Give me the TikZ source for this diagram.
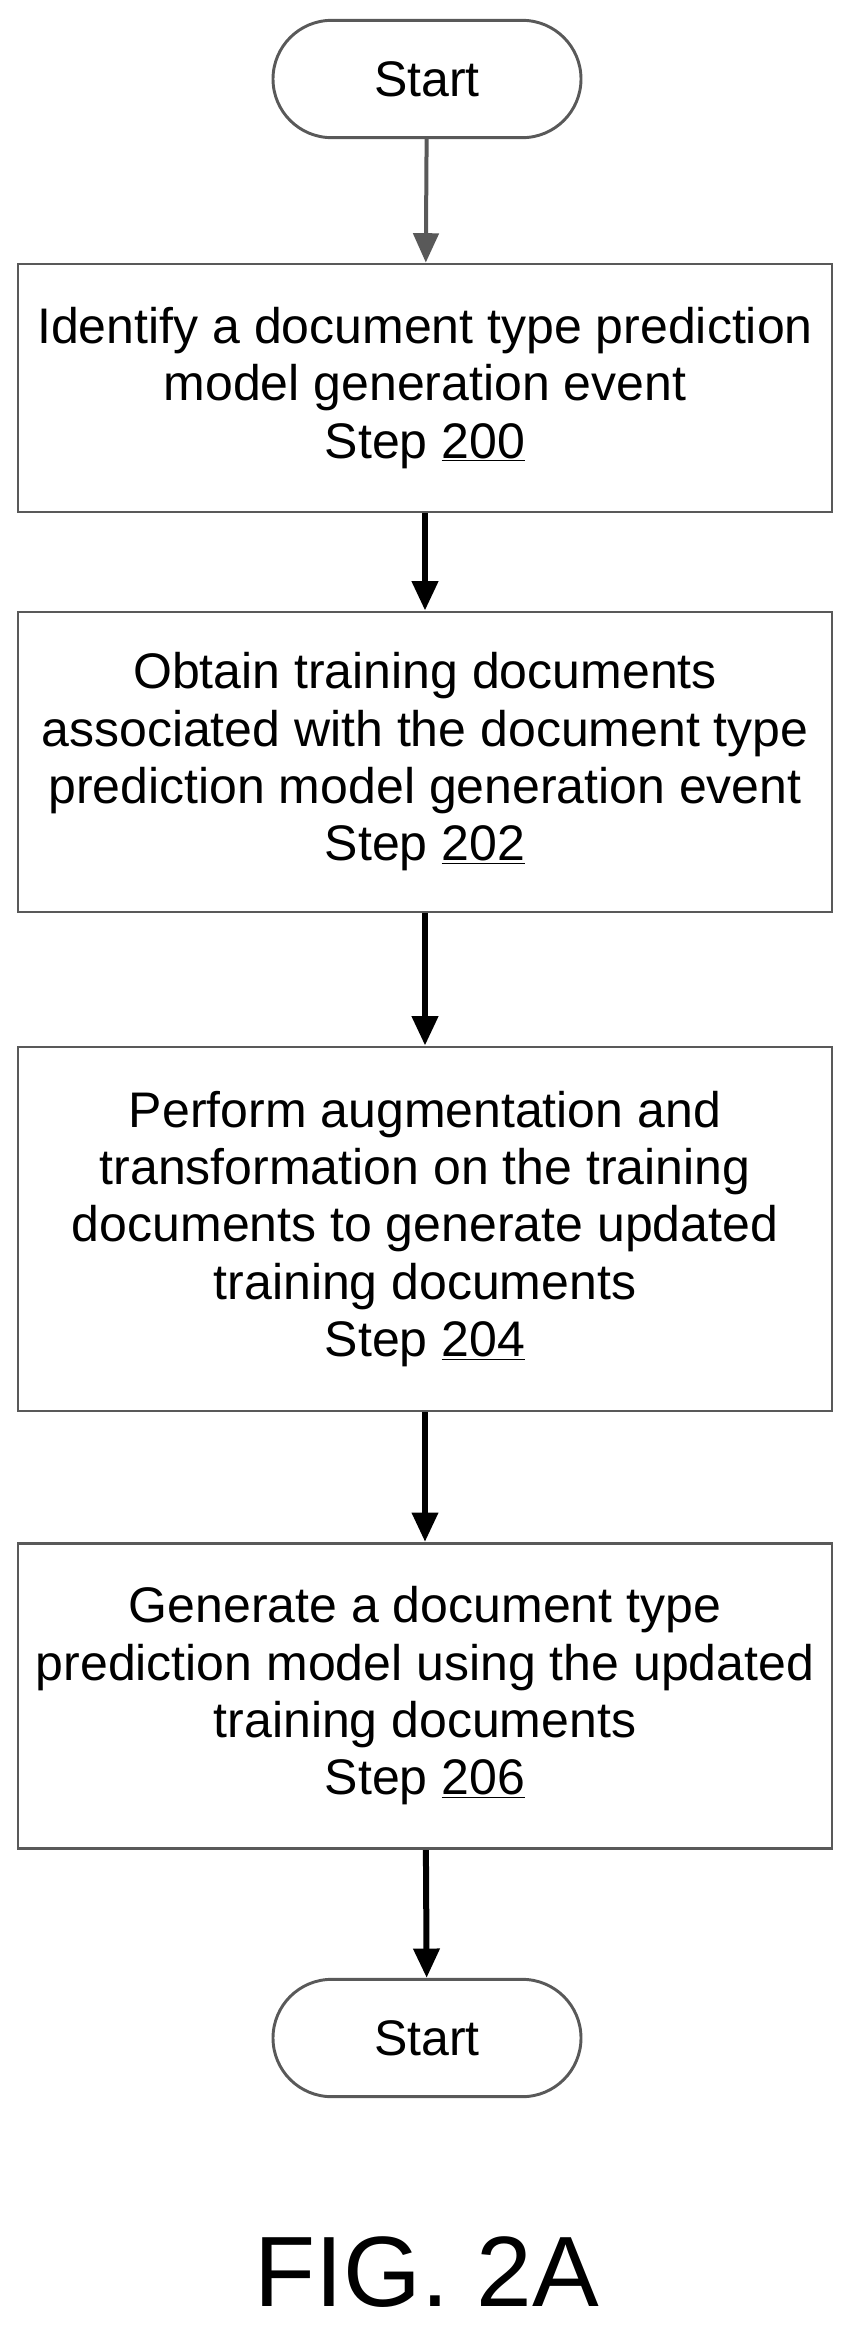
\documentclass[tikz,border=0pt]{standalone}
\usepackage{fontspec}
\setmainfont{Liberation Sans}
\usetikzlibrary{arrows.meta}
\tikzset{
  stepbox/.style = {draw = black!65, line width = 2.2pt, minimum width = 610.5pt, align = center, font = \fontsize{37.5}{43}\selectfont},
  term/.style = {draw = black!65, line width = 2.2pt, rounded corners = 44pt, minimum width = 231pt, minimum height = 88pt, font = \fontsize{37.5}{43}\selectfont},
  flow/.style = {-{Triangle[length=22pt,width=19pt]}, line width = 4.5pt}
}
\begin{document}
\begin{tikzpicture}[x=0.75pt, y=-0.75pt]
\useasboundingbox (0,0) rectangle (854,2332);
\node[term] (start) at (427,79) {Start};
\node[stepbox, minimum height = 186pt] (s200) at (425,388) {Identify a document type prediction\\model generation event\\Step \underline{200}};
\node[stepbox, minimum height = 225pt] (s202) at (425,762) {Obtain training documents\\associated with the document type\\prediction model generation event\\Step \underline{202}};
\node[stepbox, minimum height = 273pt] (s204) at (425,1229) {Perform augmentation and\\transformation on the training\\documents to generate updated\\training documents\\Step \underline{204}};
\node[stepbox, minimum height = 229pt] (s206) at (425,1696) {Generate a document type\\prediction model using the updated\\training documents\\Step \underline{206}};
\node[term] (stop) at (427,2038) {Start};
\node[font = \fontsize{75}{80}\selectfont] (fig) at (427,2272) {FIG. 2A};
\draw[flow, line width = 3pt, draw = black!65, fill = black!65] (start) -- (s200);
\draw[flow] (s200) -- (s202);
\draw[flow] (s202) -- (s204);
\draw[flow] (s204) -- (s206);
\draw[flow] (s206) -- (stop);
\end{tikzpicture}
\end{document}
